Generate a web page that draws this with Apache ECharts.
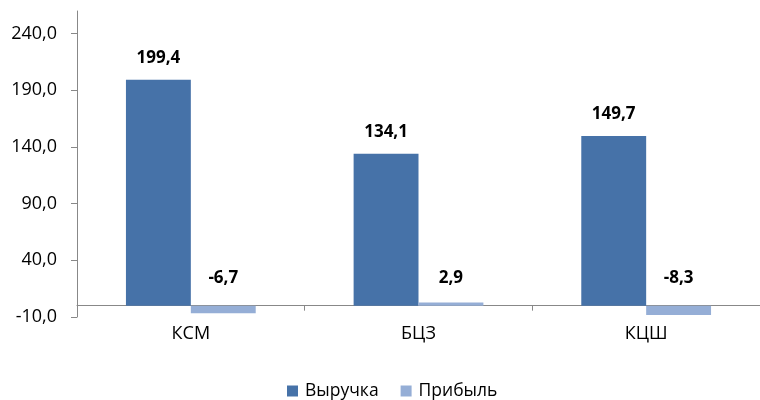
<!DOCTYPE html>
<html>
<head>
<meta charset="utf-8">
<script src="https://cdn.jsdelivr.net/npm/echarts@6/dist/echarts.min.js"></script>
<style>html,body{margin:0;padding:0;background:#fff}#c{width:760px;height:400px}</style>
</head>
<body>
<div id="c"></div>
<script>
var categories = ['КСМ', 'БЦЗ', 'КЦШ'];
var revenue = [199.4, 134.1, 149.7];
var profit = [-6.7, 2.9, -8.3];
var yTicks = [-10, 40, 90, 140, 190, 240];
var seriesNames = ['Выручка', 'Прибыль'];

var FONT = '"Open Sans", "Noto Sans", sans-serif';
function fmt(v) { return v.toFixed(1).replace('.', ','); }
function labelled(arr, posDist, negDist) {
  return arr.map(function (v) {
    return { value: v, label: { distance: v < 0 ? negDist : posDist } };
  });
}

var chart = echarts.init(document.getElementById('c'), null, { renderer: 'canvas' });
chart.setOption({
  animation: false,
  textStyle: { fontFamily: FONT },
  grid: { left: 77, right: -4, top: 11, bottom: 83 },
  legend: {
    bottom: 0,
    left: 287,
    padding: 0,
    itemWidth: 11,
    itemHeight: 11,
    itemGap: 22,
    icon: 'rect',
    textStyle: { fontFamily: FONT, fontSize: 17.5, color: '#000', padding: [0, 0, 0, 2] },
    data: seriesNames
  },
  xAxis: {
    type: 'category',
    data: categories,
    axisLine: { onZero: true, lineStyle: { color: '#888', width: 1 } },
    axisTick: { show: true, length: 5, lineStyle: { color: '#888' } },
    axisLabel: { margin: 8, fontFamily: FONT, fontSize: 18, color: '#000' },
    splitLine: { show: false }
  },
  yAxis: {
    type: 'value',
    min: -10,
    max: 260,
    interval: 50,
    axisLine: { show: true, lineStyle: { color: '#888', width: 1 } },
    axisTick: { show: true, length: 6, customValues: yTicks, lineStyle: { color: '#888' } },
    axisLabel: { margin: 20, customValues: yTicks, fontFamily: FONT, fontSize: 18, color: '#000', formatter: function (v) { return fmt(v); } },
    splitLine: { show: false }
  },
  series: [
    {
      name: seriesNames[0],
      type: 'bar',
      data: labelled(revenue, 13, 13),
      barGap: '0%',
      barCategoryGap: '43%',
      itemStyle: { color: '#4672A8' },
      label: { show: true, position: 'top', fontFamily: FONT, fontSize: 17, fontWeight: 'bold', color: '#000', formatter: function (p) { return fmt(p.value); } }
    },
    {
      name: seriesNames[1],
      type: 'bar',
      data: labelled(profit, 16, 19),
      itemStyle: { color: '#95AED6' },
      label: { show: true, position: 'top', fontFamily: FONT, fontSize: 17, fontWeight: 'bold', color: '#000', formatter: function (p) { return fmt(p.value); } }
    }
  ]
});
</script>
</body>
</html>
